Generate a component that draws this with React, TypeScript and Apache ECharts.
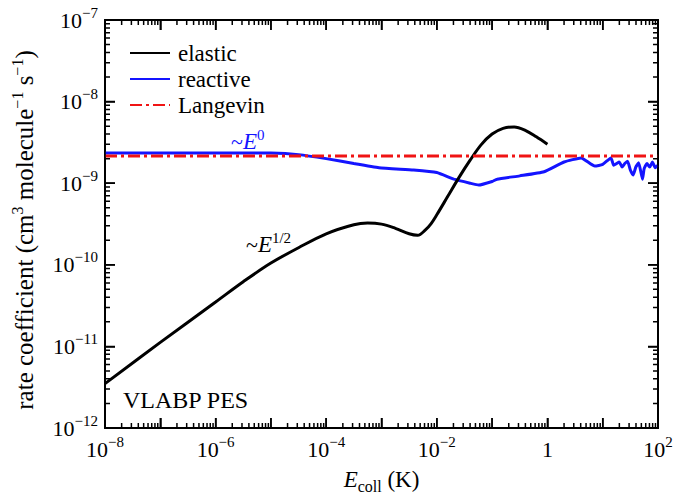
import React, { useEffect, useRef } from 'react';
import * as echarts from 'echarts';

const FONT = 'Liberation Serif, Times New Roman, serif';

// Collision energy (K) and rate coefficients (cm^3 molecule^-1 s^-1)
const elasticE = [1e-8, 1e-7, 1e-6, 3.16e-6, 1e-5, 3.16e-5, 1e-4, 3.16e-4, 5.6e-4, 1e-3, 1.78e-3, 3.16e-3, 4.5e-3, 6.3e-3, 7.9e-3, 0.01, 0.0158, 0.0251, 0.0398, 0.0631, 0.1, 0.158, 0.251, 0.398, 0.631, 1];
const elasticK = [3.5e-12, 1.12e-11, 3.5e-11, 6.2e-11, 1.05e-10, 1.62e-10, 2.4e-10, 3.1e-10, 3.25e-10, 3.15e-10, 2.8e-10, 2.4e-10, 2.3e-10, 2.7e-10, 3.2e-10, 4.1e-10, 6.9e-10, 1.17e-9, 1.9e-9, 2.95e-9, 4.0e-9, 4.7e-9, 4.9e-9, 4.45e-9, 3.7e-9, 3.0e-9];

const reactiveE = [1e-8, 1e-6, 1e-5, 3.16e-5, 1e-4, 3.16e-4, 9e-4, 3.8e-3, 0.01, 0.0204, 0.04, 0.0575, 0.1, 0.123, 0.316, 0.87, 2.0, 4.07, 7.2, 10, 14.1, 15.8, 17.8, 20, 22.4, 25.1, 28.2, 31.6, 35.5, 39.8, 44.7, 52.5, 56.2, 63.1, 70.8, 79.4, 89.1, 100];
const reactiveK = [2.35e-9, 2.35e-9, 2.34e-9, 2.24e-9, 2.0e-9, 1.74e-9, 1.55e-9, 1.45e-9, 1.35e-9, 1.12e-9, 1.0e-9, 9.5e-10, 1.05e-9, 1.12e-9, 1.23e-9, 1.38e-9, 1.82e-9, 2.04e-9, 1.62e-9, 1.7e-9, 2.04e-9, 1.66e-9, 1.74e-9, 1.82e-9, 1.58e-9, 1.74e-9, 1.86e-9, 1.45e-9, 1.26e-9, 1.58e-9, 1.78e-9, 1.12e-9, 1.51e-9, 1.74e-9, 1.58e-9, 1.82e-9, 1.55e-9, 1.66e-9];

const langevinE = [1e-8, 100];
const langevinK = [2.15e-9, 2.15e-9];

// axis ranges (decades)
const xDecades = [-8, 2];
const yDecades = [-12, -7];
const xLabelExps = [-8, -6, -4, -2, 0, 2];
const minorMultipliers = [2, 3, 4, 5, 6, 7, 8, 9];

const toLog = (xs: number[], ys: number[]) => xs.map((x, i) => [Math.log10(x), Math.log10(ys[i])]);

const sup = (e: number) => (e === 0 ? '{b|1}' : `{b|10}{s|${e < 0 ? '\u2212' + Math.abs(e) : e}}`);

const labelRich = {
  b: { fontSize: 22, lineHeight: 30, fontFamily: FONT, color: '#000' },
  s: { fontSize: 15, lineHeight: 15, fontFamily: FONT, color: '#000', verticalAlign: 'top' as const },
};

const BLUE = '#1414ff';
const RED = '#f01414';

// layout of the plotting area (px)
const GRID = { left: 105, right: 17, top: 20, bottom: 68 };
const W = 675;
const H = 496;
const MAJOR = 10;
const MINOR = 5;

// tick positions (decade + log10 of 2..9) with their lengths
function tickList(d0: number, d1: number) {
  const out: [number, number][] = [];
  for (let d = d0; d <= d1; d++) {
    out.push([d, MAJOR]);
    if (d < d1) minorMultipliers.forEach((k) => out.push([d + Math.log10(k), MINOR]));
  }
  return out;
}

// one continuous "comb" running round the frame: along each side, with a tooth at every tick
function buildTickComb() {
  const plotW = W - GRID.left - GRID.right;
  const plotH = H - GRID.top - GRID.bottom;
  const perPxX = (xDecades[1] - xDecades[0]) / plotW;
  const perPxY = (yDecades[1] - yDecades[0]) / plotH;
  const xs = tickList(xDecades[0], xDecades[1]);
  const ys = tickList(yDecades[0], yDecades[1]);
  const pts: number[][] = [];
  const [x0, x1] = xDecades;
  const [y0, y1] = yDecades;
  xs.forEach(([v, len]) => pts.push([v, y0], [v, y0 + len * perPxY], [v, y0]));
  ys.forEach(([v, len]) => pts.push([x1, v], [x1 - len * perPxX, v], [x1, v]));
  [...xs].reverse().forEach(([v, len]) => pts.push([v, y1], [v, y1 - len * perPxY], [v, y1]));
  [...ys].reverse().forEach(([v, len]) => pts.push([x0, v], [x0 + len * perPxX, v], [x0, v]));
  return pts;
}

export default function App() {
  const ref = useRef<HTMLDivElement>(null);
  useEffect(() => {
    if (!ref.current) return;
    const chart = echarts.init(ref.current, undefined, { renderer: 'svg' });

    const mkLine = () => ({ show: true, onZero: false, lineStyle: { color: '#000', width: 2 } });
    const mkTick = () => ({ show: true, inside: true, length: MAJOR, lineStyle: { color: '#000', width: 1.5 } });

    chart.setOption({
      animation: false,
      backgroundColor: '#fff',
      textStyle: { fontFamily: FONT },
      grid: { ...GRID, containLabel: false, outerBoundsMode: 'none' },
      legend: {
        show: true,
        data: ['elastic', 'reactive', 'Langevin'],
        orient: 'vertical',
        left: 124,
        top: 35,
        itemWidth: 40,
        itemHeight: 14,
        itemGap: 0,
        itemStyle: { opacity: 0 },
        textStyle: { fontFamily: FONT, fontSize: 23, color: '#000', lineHeight: 26, padding: [0, 0, 0, 3] },
        selectedMode: false,
      },
      xAxis: [
        {
          type: 'value', position: 'bottom', min: xDecades[0], max: xDecades[1], interval: 1,
          axisLine: mkLine(), axisTick: mkTick(), splitLine: { show: false },
          axisLabel: {
            margin: 6,
            formatter: (v: number) => {
              const e = Math.round(v);
              return xLabelExps.includes(e) ? sup(e) : '';
            },
            rich: labelRich,
          },
          name: '{i|E}{sub|coll}{n| (K)}',
          nameLocation: 'middle',
          nameGap: 36,
          nameTextStyle: {
            rich: {
              i: { fontSize: 23, fontStyle: 'italic', lineHeight: 30, fontFamily: FONT, color: '#000' },
              sub: { fontSize: 16, lineHeight: 16, verticalAlign: 'bottom', fontFamily: FONT, color: '#000' },
              n: { fontSize: 23, lineHeight: 30, fontFamily: FONT, color: '#000' },
            },
          },
        },
        {
          type: 'value', position: 'top', min: xDecades[0], max: xDecades[1], interval: 1,
          axisLine: mkLine(), axisTick: mkTick(), axisLabel: { show: false }, splitLine: { show: false },
        },
      ],
      yAxis: [
        {
          type: 'value', position: 'left', min: yDecades[0], max: yDecades[1], interval: 1,
          axisLine: mkLine(), axisTick: mkTick(), splitLine: { show: false },
          axisLabel: { margin: 7, formatter: (v: number) => sup(Math.round(v)), rich: labelRich },
          name: '{n|rate coefficient (cm}{s|3}{n| molecule}{s|\u22121}{n| s}{s|\u22121}{n|)}',
          nameLocation: 'middle',
          nameRotate: 90,
          nameGap: 66,
          nameTextStyle: {
            padding: [0, 12, 0, 0],
            rich: {
              n: { fontSize: 25, lineHeight: 30, fontFamily: FONT, color: '#000' },
              s: { fontSize: 16, lineHeight: 16, verticalAlign: 'top', fontFamily: FONT, color: '#000' },
            },
          },
        },
        {
          type: 'value', position: 'right', min: yDecades[0], max: yDecades[1], interval: 1,
          axisLine: mkLine(), axisTick: mkTick(), axisLabel: { show: false }, splitLine: { show: false },
        },
      ],
      graphic: [
        {
          type: 'text', left: 231, top: 127, silent: true,
          style: {
            text: '{t|~}{e|E}{s|0}',
            rich: {
              t: { fontSize: 22, lineHeight: 28, fontFamily: FONT, fill: BLUE },
              e: { fontSize: 23, lineHeight: 28, fontStyle: 'italic', fontFamily: FONT, fill: BLUE },
              s: { fontSize: 15, lineHeight: 15, verticalAlign: 'top', fontFamily: FONT, fill: BLUE },
            },
          },
        },
        {
          type: 'text', left: 246, top: 230, silent: true,
          style: {
            text: '{t|~}{e|E}{s|1/2}',
            rich: {
              t: { fontSize: 22, lineHeight: 28, fontFamily: FONT, fill: '#000' },
              e: { fontSize: 23, lineHeight: 28, fontStyle: 'italic', fontFamily: FONT, fill: '#000' },
              s: { fontSize: 15, lineHeight: 15, verticalAlign: 'top', fontFamily: FONT, fill: '#000' },
            },
          },
        },
        {
          type: 'text', left: 123, top: 388, silent: true,
          style: { text: 'VLABP PES', fontSize: 24, fontFamily: FONT, fill: '#000' },
        },
      ],
      series: [
        {
          name: 'elastic', type: 'line', data: toLog(elasticE, elasticK), showSymbol: false, symbol: 'none',
          smooth: 0.35, lineStyle: { color: '#000', width: 3 }, itemStyle: { color: '#000' }, z: 3,
        },
        {
          name: 'reactive', type: 'line', data: toLog(reactiveE, reactiveK), showSymbol: false, symbol: 'none',
          smooth: 0.15, lineStyle: { color: BLUE, width: 3 }, itemStyle: { color: BLUE }, z: 2,
        },
        {
          name: 'Langevin', type: 'line', data: toLog(langevinE, langevinK), showSymbol: false, symbol: 'none',
          lineStyle: { color: RED, width: 3, type: [12, 4, 3, 4] }, itemStyle: { color: RED }, z: 4,
        },
        {
          name: 'frame ticks', type: 'line', data: buildTickComb(), showSymbol: false, symbol: 'none',
          silent: true, clip: false, z: 5,
          lineStyle: { color: '#000', width: 1.5, join: 'miter' }, itemStyle: { color: '#000' },
          emphasis: { disabled: true },
        },
      ],
    });

    return () => chart.dispose();
  }, []);
  return <div ref={ref} style={{ width: W, height: H, position: 'absolute', left: 0, top: 0 }} />;
}
